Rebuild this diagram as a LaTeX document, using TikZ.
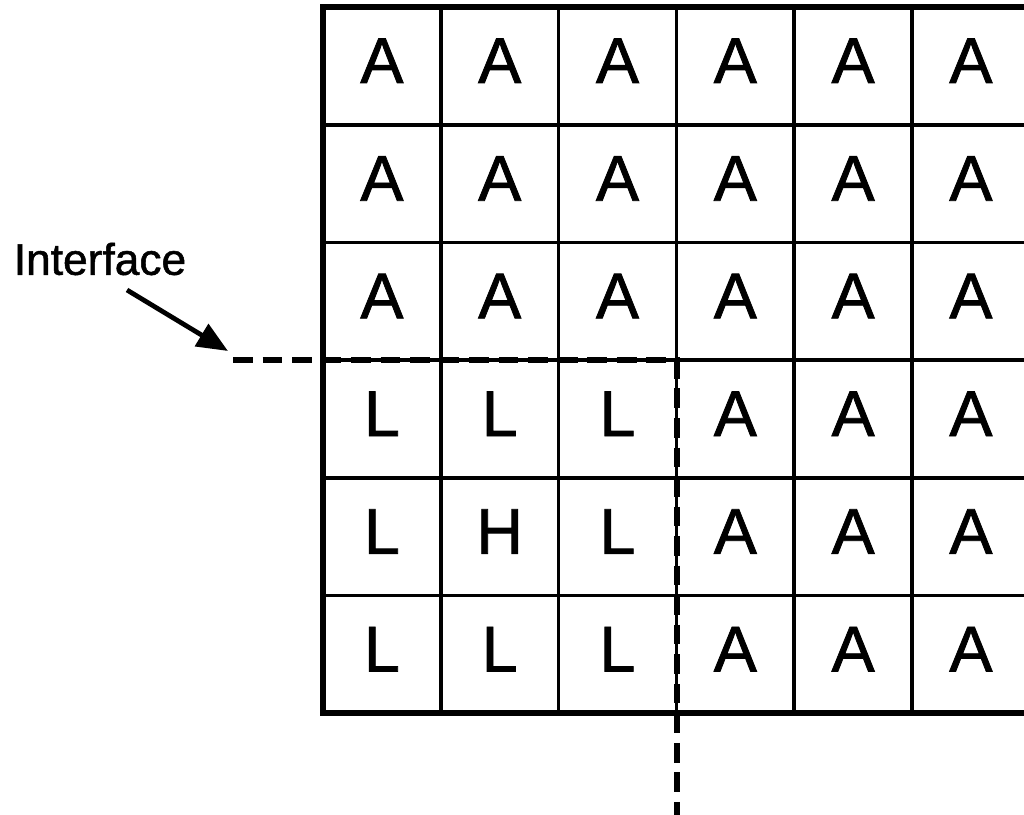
\documentclass[tikz,border=0pt]{standalone}
\usepackage{fontspec}
\setmainfont{Liberation Sans}
\newfontfamily\cellfont[FakeBold=1.2]{Liberation Sans}
\usetikzlibrary{positioning}
\usetikzlibrary{arrows.meta}

\begin{document}
\begin{tikzpicture}[x=0.025cm, y=-0.025cm,
    cellline/.style={line width=2.6pt},
    frameline/.style={line width=4.4pt},
    ifaceline/.style={line width=4.4pt, dash pattern=on 14pt off 7pt},
    letter/.style={font=\cellfont\fontsize{46}{46}\selectfont, inner sep=0pt},
    pointer/.style={line width=3.4pt, -{Triangle[length=22pt, width=18pt]}}]
    \useasboundingbox (0,0) rectangle (1024,814);
    \clip (0,0) rectangle (1024,814);
    % grid of cells, origin top left at (323,7), cell size 117.8
    \foreach \i in {1,...,5} {
        \draw[cellline] (323+\i*117.8,7) -- (323+\i*117.8,713);
        \draw[cellline] (323,7+\i*117.7) -- (1040,7+\i*117.7);
    }
    % outer frame (right side runs off the page)
    \draw[frameline] (1040,7) -- (323,7) -- (323,713) -- (1040,713);
    % letters in the cells, row by row
    \foreach \row [count=\r] in {{A,A,A,A,A,A},{A,A,A,A,A,A},{A,A,A,A,A,A},
                                 {L,L,L,A,A,A},{L,H,L,A,A,A},{L,L,L,A,A,A}} {
        \foreach \ch [count=\c] in \row {
            \node[letter] (cell-\r-\c) at (323+\c*117.8-58.9, 7+\r*117.7-64) {\ch};
        }
    }
    % interface label and its arrow
    \node[font=\cellfont\fontsize{31.5}{31.5}\selectfont, inner sep=0pt] (iface) at (100,259) {Interface};
    \coordinate (tail) at (127,290);
    \coordinate (tip) at (228,351);
    \draw[pointer] (tail) -- (tip);
    % dashed interface line round the L region
    \coordinate (dstart) at (233,360);
    \coordinate (corner) at (677,360);
    \coordinate (dend) at (677,830);
    \draw[ifaceline] (dstart) -- (corner) -- (dend);
\end{tikzpicture}
\end{document}
